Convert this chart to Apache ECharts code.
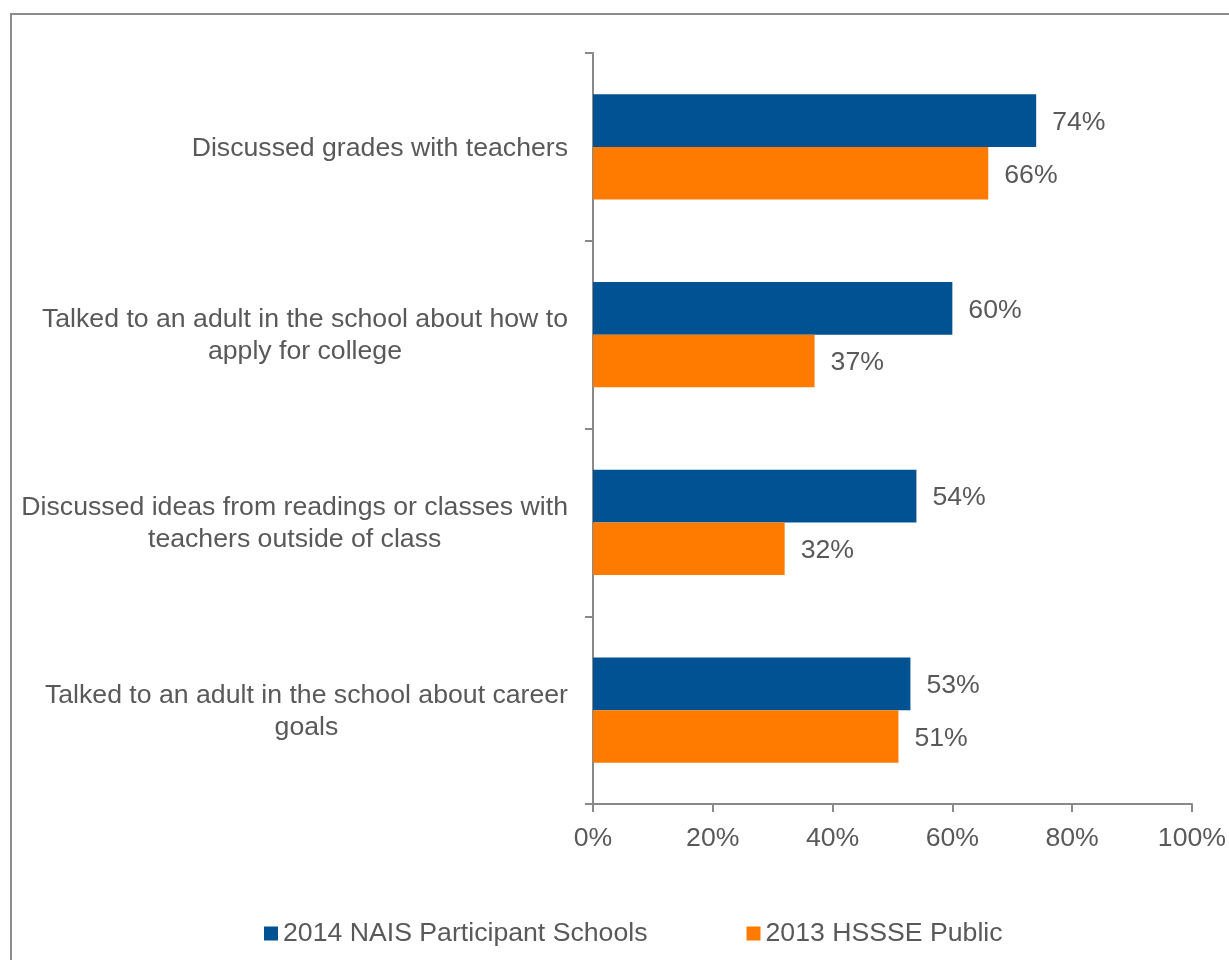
<!DOCTYPE html>
<html>
<head>
<meta charset="utf-8">
<script src="https://cdn.jsdelivr.net/npm/echarts@6/dist/echarts.min.js"></script>
<style>
  html, body { margin: 0; padding: 0; background: #ffffff; }
  #chart { width: 1229px; height: 960px; }
</style>
</head>
<body>
<div id="chart"></div>
<script>
// Survey items (top to bottom); '\n' marks where each label wraps
const categories = [
  'Discussed grades with teachers',
  'Talked to an adult in the school about how to\napply for college',
  'Discussed ideas from readings or classes with\nteachers outside of class',
  'Talked to an adult in the school about career\ngoals'
];
const seriesNames = ['2014 NAIS Participant Schools', '2013 HSSSE Public'];
const naisValues = [74, 60, 54, 53];
const hssseValues = [66, 37, 32, 51];
const xTicks = [0, 20, 40, 60, 80, 100];

const FONT = '"Liberation Sans", Arial, sans-serif';
const FS = 26.67;
const TEXT = '#595959';
const AXIS = '#898989';
const BLUE = '#005293';
const ORANGE = '#FF7B00';

const chart = echarts.init(document.getElementById('chart'), null, { renderer: 'canvas' });

const valueLabel = {
  show: true,
  position: 'right',
  distance: 16,
  offset: [0, 2],
  formatter: p => p.value + '%',
  color: TEXT,
  fontSize: FS,
  fontFamily: FONT
};

chart.setOption({
  backgroundColor: '#ffffff',
  animation: false,
  textStyle: { fontFamily: FONT },
  graphic: [{
    type: 'rect',
    shape: { x: 11, y: 14, width: 1400, height: 1200 },
    style: { fill: 'none', stroke: '#8c8c8c', lineWidth: 2 },
    silent: true,
    z: -10
  }],
  grid: { left: 593, right: 37, top: 53, bottom: 156, containLabel: false },
  legend: {
    left: 264,
    top: 920,
    padding: 0,
    itemWidth: 14,
    itemHeight: 14,
    itemGap: 99,
    icon: 'rect',
    textStyle: { color: TEXT, fontSize: FS, fontFamily: FONT },
    data: seriesNames
  },
  xAxis: {
    type: 'value',
    min: xTicks[0],
    max: xTicks[xTicks.length - 1],
    interval: xTicks[1] - xTicks[0],
    axisLine: { show: true, lineStyle: { color: AXIS, width: 2 } },
    axisTick: { show: true, length: 8, lineStyle: { color: AXIS, width: 2 } },
    splitLine: { show: false },
    axisLabel: {
      formatter: v => v + '%',
      color: TEXT,
      fontSize: FS,
      fontFamily: FONT,
      margin: 21
    }
  },
  yAxis: {
    type: 'category',
    inverse: true,
    data: categories,
    axisLine: { show: true, lineStyle: { color: AXIS, width: 2 } },
    axisTick: { show: true, length: 8, lineStyle: { color: AXIS, width: 2 } },
    axisLabel: {
      margin: 25,
      color: TEXT,
      fontSize: FS,
      fontFamily: FONT,
      lineHeight: 32,
      formatter: v => v.split('\n').map(l => '{c|' + l + '}').join('\n'),
      rich: {
        c: { align: 'center', color: TEXT, fontSize: FS, fontFamily: FONT, lineHeight: 32, padding: [3, 0, 0, 0] }
      }
    }
  },
  series: [
    {
      name: seriesNames[0],
      type: 'bar',
      data: naisValues,
      itemStyle: { color: BLUE },
      barGap: '0%',
      barCategoryGap: '44%',
      label: valueLabel
    },
    {
      name: seriesNames[1],
      type: 'bar',
      data: hssseValues,
      itemStyle: { color: ORANGE },
      barGap: '0%',
      barCategoryGap: '44%',
      label: valueLabel
    }
  ]
});
</script>
</body>
</html>
